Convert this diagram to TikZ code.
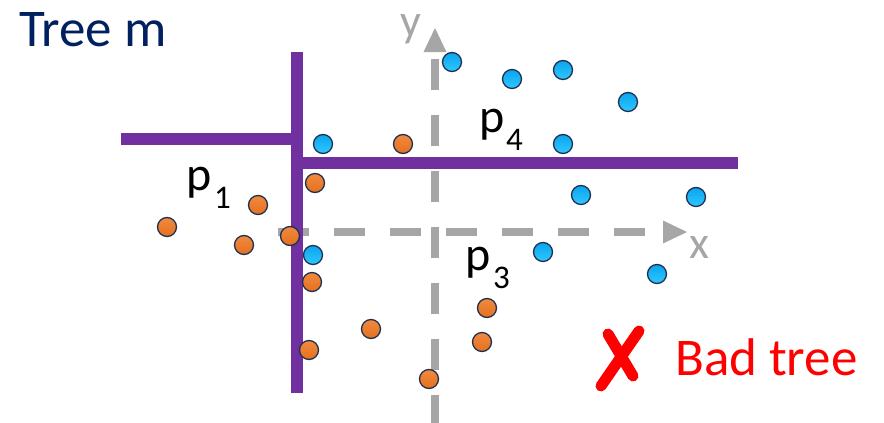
\documentclass[tikz,border=0pt]{standalone}
\usepackage{fontspec}
\setmainfont{Carlito}
\usetikzlibrary{shapes.geometric}
\definecolor{navy}{HTML}{002060}
\definecolor{purp}{HTML}{7030A0}
\definecolor{axisgray}{HTML}{A6A6A6}
\definecolor{ptborder}{HTML}{1F3050}
\definecolor{bluetop}{HTML}{0AA4EE}
\definecolor{bluebot}{HTML}{30C8FF}
\definecolor{orgtop}{HTML}{F08A40}
\definecolor{orgbot}{HTML}{E4701E}
\tikzset{
  split/.style={draw=purp, line width=12pt, line cap=butt},
  axisline/.style={draw=axisgray, line width=8pt, dash pattern=on 31pt off 25pt},
  axistip/.style={fill=axisgray, draw=none},
  bpt/.style={circle, minimum size=19pt, inner sep=0pt, draw=ptborder, line width=1.3pt, top color=bluetop, bottom color=bluebot},
  opt/.style={circle, minimum size=19pt, inner sep=0pt, draw=ptborder, line width=1.3pt, top color=orgtop, bottom color=orgbot},
  lbl/.style={inner sep=0pt, anchor=base west, font=\fontsize{48}{56}\selectfont},
  sublbl/.style={inner sep=0pt, anchor=base west, font=\fontsize{33}{40}\selectfont},
  axlbl/.style={inner sep=0pt, text=axisgray, text height=0.48em, text depth=0.2em, font=\fontsize{46}{54}\selectfont},
  cross/.style={draw=red, line width=11pt, line cap=round},
}
\begin{document}
\begin{tikzpicture}[x=1pt, y=-1pt]
\useasboundingbox (0,0) rectangle (884,423);
% title
\node[inner sep=0pt, anchor=base west, text=navy, font=\fontsize{53}{62}\selectfont] (title) at (19,46) {Tree m};
% axes
\draw[axisline] (278,232) -- (645,232);
\path[axistip] (663,220.5) -- (687,232) -- (663,243.5) -- cycle;
\draw[axisline] (435,59) -- (435,423);
\path[axistip] (423.5,52) -- (435,28) -- (446.5,52) -- cycle;
\node[axlbl, anchor=base] (ylab) at (411,36) {y};
\node[axlbl, anchor=base] (xlab) at (699,258) {x};
% splits
\draw[split] (121,139) -- (297,139);
\draw[split] (297,52) -- (297,393);
\draw[split] (297,163) -- (738,163);
% labels
\node[lbl] (p1) at (186,190) {p};
\node[sublbl] (p1s) at (214,208) {1};
\node[lbl] (p4) at (479,132) {p};
\node[sublbl] (p4s) at (506,150) {4};
\node[lbl] (p3) at (465,270) {p};
\node[sublbl] (p3s) at (493,288) {3};
% blue points
\node[bpt] (b1) at (452,62) {};
\node[bpt] (b2) at (512,79) {};
\node[bpt] (b3) at (563,70) {};
\node[bpt] (b4) at (628,102) {};
\node[bpt] (b5) at (563,144) {};
\node[bpt] (b6) at (323,144) {};
\node[bpt] (b7) at (581,195) {};
\node[bpt] (b8) at (696,197) {};
\node[bpt] (b9) at (313,255) {};
\node[bpt] (b10) at (543,252) {};
\node[bpt] (b11) at (657,274) {};
% orange points
\node[opt] (o1) at (403,144) {};
\node[opt] (o2) at (315,183) {};
\node[opt] (o3) at (258,205) {};
\node[opt] (o4) at (167,227) {};
\node[opt] (o5) at (244,245) {};
\node[opt] (o6) at (290,236) {};
\node[opt] (o7) at (312,282) {};
\node[opt] (o8) at (371,329) {};
\node[opt] (o9) at (309,350) {};
\node[opt] (o10) at (429,379) {};
\node[opt] (o11) at (487,308) {};
\node[opt] (o12) at (482,342) {};
% bad tree
\draw[cross] (639,331) -- (601,386);
\draw[cross] (608,334) -- (633,376);
\node[inner sep=0pt, anchor=base west, text=red, font=\fontsize{53}{62}\selectfont] (bad) at (675,375) {Bad tree};
\end{tikzpicture}
\end{document}
